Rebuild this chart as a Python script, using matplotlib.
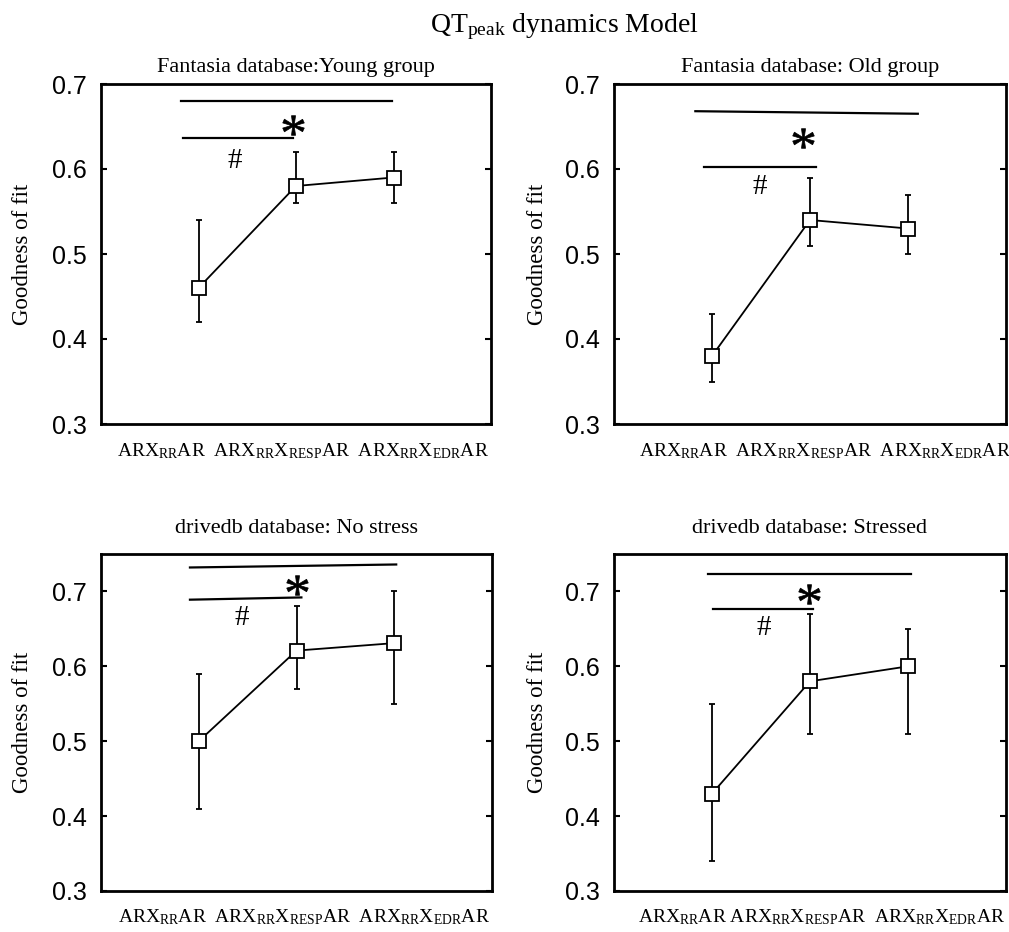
import numpy as np
import matplotlib
matplotlib.use("Agg")
import matplotlib.pyplot as plt
from matplotlib.textpath import TextPath
from matplotlib.font_manager import FontProperties
from matplotlib.path import Path

plt.rcParams['font.family'] = ['Liberation Serif', 'DejaVu Serif']
plt.rcParams['mathtext.fontset'] = 'custom'
plt.rcParams['mathtext.rm'] = 'Liberation Serif'
plt.rcParams['mathtext.it'] = 'Liberation Serif:italic'

models = [1, 2, 3]
xlabels = [r'AR$\mathrm{X}_{\mathrm{RR}}$AR  AR$\mathrm{X}_{\mathrm{RR}}\mathrm{X}_{\mathrm{RESP}}$AR  AR$\mathrm{X}_{\mathrm{RR}}\mathrm{X}_{\mathrm{EDR}}$AR',
           r'AR$\mathrm{X}_{\mathrm{RR}}$AR  AR$\mathrm{X}_{\mathrm{RR}}\mathrm{X}_{\mathrm{RESP}}$AR  AR$\mathrm{X}_{\mathrm{RR}}\mathrm{X}_{\mathrm{EDR}}$AR',
           r'AR$\mathrm{X}_{\mathrm{RR}}$AR  AR$\mathrm{X}_{\mathrm{RR}}\mathrm{X}_{\mathrm{RESP}}$AR  AR$\mathrm{X}_{\mathrm{RR}}\mathrm{X}_{\mathrm{EDR}}$AR',
           r'AR$\mathrm{X}_{\mathrm{RR}}$AR AR$\mathrm{X}_{\mathrm{RR}}\mathrm{X}_{\mathrm{RESP}}$AR  AR$\mathrm{X}_{\mathrm{RR}}\mathrm{X}_{\mathrm{EDR}}$AR']
titles = ['Fantasia database:Young group', 'Fantasia database: Old group',
          'drivedb database: No stress', 'drivedb database: Stressed']

# mean goodness of fit, and lower / upper ends of the error bars
young_mean = [0.46, 0.58, 0.59]
young_lo = [0.42, 0.56, 0.56]
young_hi = [0.54, 0.62, 0.62]
old_mean = [0.38, 0.54, 0.53]
old_lo = [0.35, 0.51, 0.50]
old_hi = [0.43, 0.59, 0.57]
nostress_mean = [0.50, 0.621, 0.631]
nostress_lo = [0.41, 0.57, 0.55]
nostress_hi = [0.59, 0.68, 0.70]
stress_mean = [0.43, 0.58, 0.60]
stress_lo = [0.34, 0.51, 0.51]
stress_hi = [0.55, 0.67, 0.65]

# significance bars: (x0, x1, y0, y1) for '*' line and '#' line, then symbol spots
star_line = [(0.82, 2.98, 0.680, 0.680), (0.83, 3.10, 0.668, 0.665),
             (0.91, 3.02, 0.732, 0.736), (0.96, 3.03, 0.723, 0.723)]
hash_line = [(0.84, 1.97, 0.636, 0.636), (0.92, 2.06, 0.602, 0.602),
             (0.91, 2.05, 0.689, 0.692), (1.01, 2.03, 0.677, 0.677)]
star_pos = [(1.97, 0.652), (1.93, 0.636), (2.01, 0.708), (1.99, 0.696)]
hash_pos = [(1.37, 0.609), (1.49, 0.579), (1.44, 0.665), (1.53, 0.651)]

means = [young_mean, old_mean, nostress_mean, stress_mean]
los = [young_lo, old_lo, nostress_lo, stress_lo]
his = [young_hi, old_hi, nostress_hi, stress_hi]
ylims = [(0.3, 0.7), (0.3, 0.7), (0.3, 0.75), (0.3, 0.75)]

# Times-style asterisk as a centred marker
tp = TextPath((0, 0), '*', size=1, prop=FontProperties(family='Liberation Serif'))
bb = tp.get_extents()
cx, cy = (bb.x0 + bb.x1) / 2, (bb.y0 + bb.y1) / 2
verts = tp.vertices - [cx, cy]
verts[tp.codes == Path.CLOSEPOLY] = 0
star_marker = Path(verts, tp.codes)

W, H = 1009, 932
fig = plt.figure(figsize=(W / 100, H / 100), dpi=100)
boxes = [(101, 84, 491, 424), (614, 84, 1006, 424),
         (101, 554, 492, 891), (614, 554, 1006, 891)]
xlab_x = [0.518, 0.538, 0.518, 0.53]
title_pad = [8.5, 8.5, 15, 15]

for i in range(4):
    l, t, r, b = boxes[i]
    ax = fig.add_axes([l / W, 1 - b / H, (r - l) / W, (b - t) / H])
    m = np.array(means[i])
    err = [m - np.array(los[i]), np.array(his[i]) - m]
    ax.errorbar(models, m, yerr=err, color='k', lw=1.3, marker='s', ms=9.5,
                mfc='white', mec='k', mew=1.3, capsize=2.5, capthick=1.5,
                elinewidth=1.3)
    x0, x1, y0, y1 = star_line[i]
    ax.plot([x0, x1], [y0, y1], color='k', lw=1.6)
    x0, x1, y0, y1 = hash_line[i]
    ax.plot([x0, x1], [y0, y1], color='k', lw=1.6)
    ax.plot(*star_pos[i], marker=star_marker, ms=15.5, color='k', mew=0.5)
    ax.text(*hash_pos[i], '#', fontsize=21, ha='center', va='center')

    ax.set_xlim(0, 4)
    ax.set_ylim(*ylims[i])
    ax.set_xticks([])
    ax.set_yticks([0.3, 0.4, 0.5, 0.6, 0.7])
    ax.set_yticklabels(['0.3', '0.4', '0.5', '0.6', '0.7'],
                       fontfamily='Liberation Sans', fontsize=18)
    ax.tick_params(axis='y', direction='in', length=4, width=1.5, pad=10,
                   left=True, right=True)
    for s in ax.spines.values():
        s.set_linewidth(2)
    ax.set_ylabel('Goodness of fit', fontsize=16.5)
    ax.yaxis.set_label_coords(-0.175 if i % 2 == 0 else -0.168, 0.5)
    ax.set_title(titles[i], fontsize=16, pad=title_pad[i])
    ax.text(xlab_x[i], -0.094, xlabels[i], transform=ax.transAxes,
            ha='center', va='baseline', fontsize=14)

fig.text(430 / W, 1 - 32 / H, r'QT$_{\mathrm{peak}}$ dynamics Model',
         ha='left', va='baseline', fontsize=20)

fig.savefig('out.png', dpi=100)
